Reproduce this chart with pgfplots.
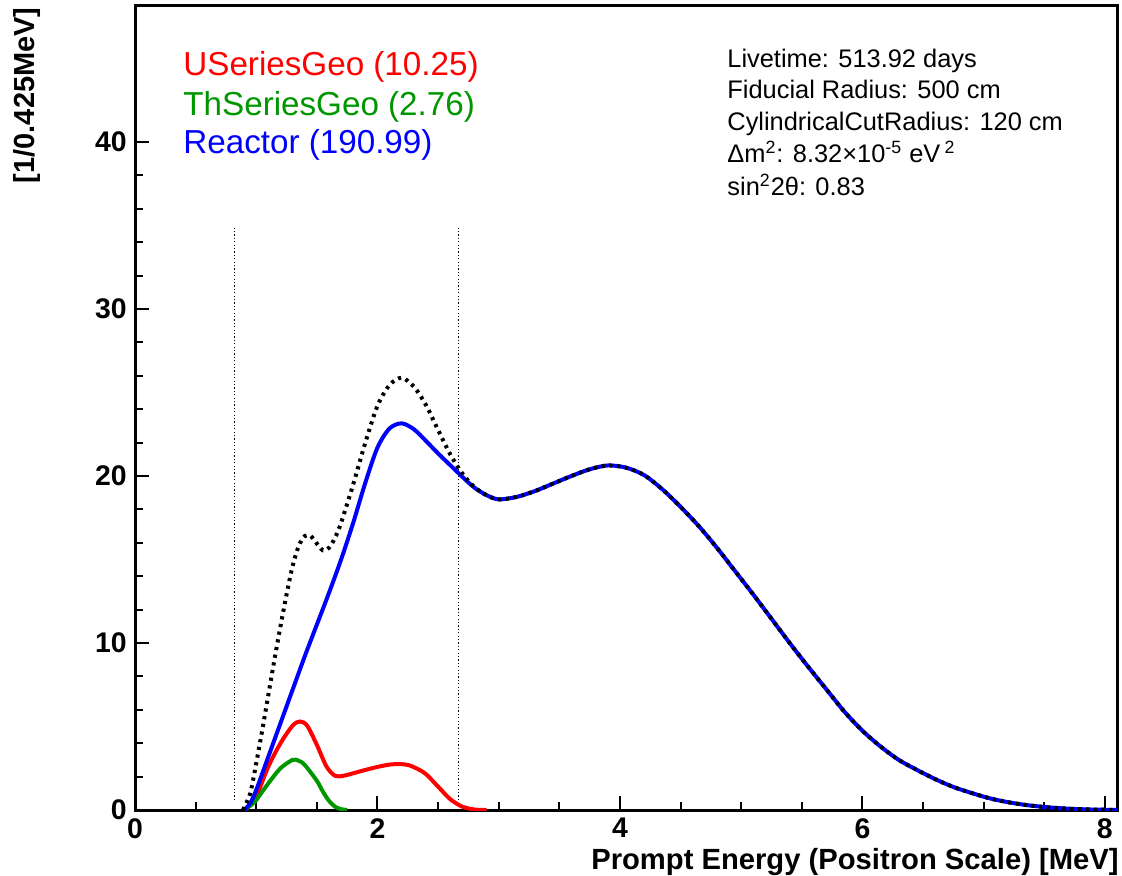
\documentclass[border=0pt]{standalone}
\usepackage{fontspec}
\setmainfont{Liberation Sans}
\usepackage{pgfplots}
\pgfplotsset{compat=1.18}
\definecolor{rootred}{RGB}{255,0,0}
\definecolor{rootgreen}{RGB}{0,150,0}
\definecolor{rootblue}{RGB}{0,0,255}

\pgfplotstableread{
x y
0.9 0
0.95 0.4
1.0 1.2
1.1 3.2
1.2 5.2
1.3 7.2
1.4 9.2
1.5 11.1
1.6 13.0
1.7 15.0
1.8 17.2
1.9 19.6
2.0 21.7
2.1 22.85
2.2 23.15
2.3 22.8
2.4 22.1
2.5 21.35
2.6 20.65
2.7 19.95
2.8 19.3
2.9 18.85
3.0 18.6
3.15 18.75
3.3 19.1
3.45 19.55
3.6 20.0
3.75 20.4
3.9 20.63
4.05 20.5
4.2 20.05
4.35 19.2
4.5 18.15
4.65 17.0
4.8 15.7
4.95 14.3
5.1 12.9
5.25 11.45
5.4 10.0
5.55 8.6
5.7 7.25
5.85 5.9
6.0 4.75
6.15 3.8
6.3 3.0
6.45 2.4
6.6 1.85
6.75 1.38
6.9 1.02
7.05 0.7
7.2 0.47
7.35 0.3
7.5 0.18
7.65 0.1
7.8 0.05
7.95 0.02
8.1 0.01
}\reactor

\pgfplotstableread{
x y
0.9 0
0.95 0.3
1.0 0.8
1.1 2.6
1.2 4.0
1.3 5.05
1.36 5.3
1.42 5.05
1.5 3.9
1.58 2.6
1.65 2.05
1.72 2.05
1.8 2.2
1.9 2.4
2.0 2.58
2.1 2.72
2.18 2.75
2.25 2.7
2.32 2.5
2.4 2.15
2.5 1.4
2.6 0.65
2.7 0.2
2.8 0.03
2.9 0
}\useries

\pgfplotstableread{
x y
0.9 0
0.95 0.25
1.0 0.6
1.1 1.6
1.2 2.5
1.3 3.0
1.35 2.95
1.4 2.7
1.5 1.75
1.55 1.1
1.6 0.55
1.65 0.2
1.7 0.05
1.75 0
}\thseries

\pgfplotstableread{
x y
0.89 0
0.95 1.0
1.0 2.8
1.05 4.8
1.1 6.9
1.15 9.0
1.2 11.0
1.25 12.9
1.3 14.6
1.35 15.8
1.4 16.4
1.45 16.4
1.5 15.95
1.55 15.55
1.6 15.7
1.65 16.3
1.7 17.2
1.8 19.5
1.9 22.0
2.0 24.2
2.1 25.45
2.2 25.88
2.3 25.35
2.4 24.25
2.5 22.75
2.6 21.3
2.7 20.15
2.8 19.33
2.9 18.85
3.0 18.6
3.15 18.75
3.3 19.1
3.45 19.55
3.6 20.0
3.75 20.4
3.9 20.63
4.05 20.5
4.2 20.05
4.35 19.2
4.5 18.15
4.65 17.0
4.8 15.7
4.95 14.3
5.1 12.9
5.25 11.45
5.4 10.0
5.55 8.6
5.7 7.25
5.85 5.9
6.0 4.75
6.15 3.8
6.3 3.0
6.45 2.4
6.6 1.85
6.75 1.38
6.9 1.02
7.05 0.7
7.2 0.47
7.35 0.3
7.5 0.18
7.65 0.1
7.8 0.05
7.95 0.02
8.1 0.01
}\total

\begin{document}
\begin{tikzpicture}
\begin{axis}[
  name=ax, at={(0,0)}, anchor=south west,
  scale only axis, width=491pt, height=402.5pt,
  xmin=0, xmax=8.1, ymin=0, ymax=48.2,
  xtick={0,2,4,6,8}, ytick={0,10,20,30,40},
  minor x tick num=3, minor y tick num=4,
  tick pos=left, tick align=inside,
  major tick length=7pt, minor tick length=4pt,
  axis line style={line width=1.5pt},
  tick style={line width=1pt, black},
  /pgf/number format/assume math mode=true,
  ticklabel style={font=\fontsize{14.2}{14.2}\selectfont\bfseries},
  xticklabel style={inner sep=0pt, anchor=north, yshift=-4pt},
  yticklabel style={inner sep=0pt, anchor=east, xshift=-4pt},
]
\addplot[black, line width=0.6pt, dash pattern=on 0.6pt off 1.1pt] coordinates {(0.82,0.6) (0.82,35)};
\addplot[black, line width=0.6pt, dash pattern=on 0.6pt off 1.1pt] coordinates {(2.67,0.6) (2.67,35)};
\addplot[rootred, line width=2pt, smooth] table[x=x,y=y] {\useries};
\addplot[rootgreen, line width=2pt, smooth] table[x=x,y=y] {\thseries};
\addplot[rootblue, line width=2pt, smooth] table[x=x,y=y] {\reactor};
\addplot[black, line width=2pt, dash pattern=on 1.6pt off 2.3pt, smooth] table[x=x,y=y] {\total};
\end{axis}

\node[anchor=base east, inner sep=0pt, font=\fontsize{14.6}{14.6}\selectfont\bfseries]
  at ([xshift=1pt, yshift=-29.5pt]ax.south east) {Prompt Energy (Positron Scale) [MeV]};
\node[anchor=east, rotate=90, inner sep=0pt, font=\fontsize{14.5}{14.5}\selectfont\bfseries]
  at ([xshift=-54pt, yshift=-1pt]ax.north west) {[1/0.425MeV]};

\begin{scope}[every node/.style={anchor=base west, inner sep=0pt, font=\fontsize{16.6}{16.6}\selectfont}]
\node[text=rootred] at ([xshift=24pt, yshift=-35pt]ax.north west) {USeriesGeo (10.25)};
\node[text=rootgreen] at ([xshift=24pt, yshift=-55pt]ax.north west) {ThSeriesGeo (2.76)};
\node[text=rootblue] at ([xshift=24pt, yshift=-74pt]ax.north west) {Reactor (190.99)};
\end{scope}

\begin{scope}[every node/.style={anchor=base west, inner sep=0pt, font=\fontsize{12.7}{12.7}\selectfont}]
\node at ([xshift=296pt, yshift=-31pt]ax.north west) {Livetime: 513.92 days};
\node at ([xshift=296pt, yshift=-46.5pt]ax.north west) {Fiducial Radius: 500 cm};
\node at ([xshift=296pt, yshift=-62.5pt]ax.north west) {CylindricalCutRadius: 120 cm};
\node at ([xshift=296pt, yshift=-78.5pt]ax.north west) {Δm\textsuperscript{2}: 8.32×10\textsuperscript{-5} eV\,\textsuperscript{2}};
\node at ([xshift=296pt, yshift=-95pt]ax.north west) {sin\textsuperscript{2}2θ: 0.83};
\end{scope}

\pgfresetboundingbox
\path ([shift={(-67.5pt,-32.5pt)}]ax.south west) rectangle ([shift={(493.5pt,405pt)}]ax.south west);
\end{tikzpicture}
\end{document}
